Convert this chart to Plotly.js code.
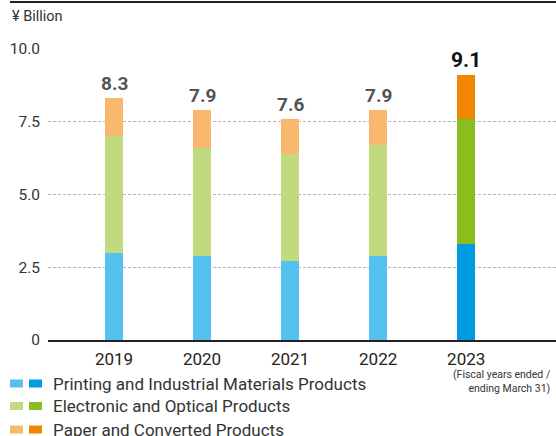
<!DOCTYPE html>
<html>
<head>
<meta charset="utf-8">
<script src="https://cdn.plot.ly/plotly-3.0.1.min.js"></script>
<style>
html,body{margin:0;padding:0;background:#fff;}
#chart{width:556px;height:436px;}
</style>
</head>
<body>
<div id="chart"></div>
<script>
// ---- data ----
const years = ['2019', '2020', '2021', '2022', '2023'];
const printingIndustrial = [3.0, 2.9, 2.7, 2.9, 3.3];
const electronicOptical = [4.0, 3.7, 3.7, 3.8, 4.3];
const paperConverted = [1.3, 1.3, 1.2, 1.2, 1.5];
const seriesNames = ['Printing and Industrial Materials Products', 'Electronic and Optical Products', 'Paper and Converted Products'];
const yTickVals = [0, 2.5, 5.0, 7.5, 10.0];
const yTickText = ['0', '2.5', '5.0', '7.5', '10.0'];
const unitLabel = '¥ Billion';
const fiscalNote = '(Fiscal years ended /<br>ending March 31)';

// ---- styles ----
const FONT = 'Roboto, "DejaVu Sans", sans-serif';
const lightColors = ['#55c1ef', '#c1da7f', '#f8b86d'];
const darkColors = ['#009be0', '#8abe1e', '#f18700'];
const L = 48, R = 0, T = 49, B = 96, W = 556, H = 436;
const pw = W - L - R, ph = H - T - B;
const px = x => (x - L) / pw;
const py = y => (H - B - y) / ph;

const seriesData = [printingIndustrial, electronicOptical, paperConverted];
const lastIdx = years.length - 1;

const traces = seriesData.map((vals, s) => ({
  type: 'bar',
  x: years,
  y: vals,
  name: seriesNames[s],
  width: 0.205,
  marker: {
    color: years.map((_, i) => i === lastIdx ? darkColors[s] : lightColors[s]),
    line: {width: 0}
  },
  hoverinfo: 'skip',
  showlegend: false
}));

const totals = years.map((_, i) => seriesData.reduce((a, arr) => a + arr[i], 0));

const annotations = [];
years.forEach((yr, i) => {
  const last = i === lastIdx;
  annotations.push({
    x: i, y: totals[i], xref: 'x', yref: 'y',
    text: '<b>' + totals[i].toFixed(1) + '</b>',
    showarrow: false, yanchor: 'bottom', yshift: 1,
    font: {family: FONT, size: last ? 21 : 19, color: last ? '#111' : '#555'}
  });
});
annotations.push({
  x: px(10), y: py(17), xref: 'paper', yref: 'paper',
  text: unitLabel, showarrow: false, xanchor: 'left', yanchor: 'middle',
  font: {family: FONT, size: 14.5, color: '#333'}
});
annotations.push({
  x: px(553), y: py(381), xref: 'paper', yref: 'paper',
  text: fiscalNote, showarrow: false, xanchor: 'right', yanchor: 'middle', align: 'right',
  font: {family: FONT, size: 10.5, color: '#333'}
});

const shapes = [{
  type: 'line', xref: 'paper', yref: 'paper',
  x0: px(10), x1: 1, y0: py(2), y1: py(2),
  line: {color: '#222', width: 2}
}];

const legendRows = [383.5, 406, 429.5];
seriesNames.forEach((nm, s) => {
  const cy = legendRows[s];
  shapes.push({type: 'rect', xref: 'paper', yref: 'paper',
    x0: px(10), x1: px(23), y0: py(cy - 4), y1: py(cy + 4),
    fillcolor: lightColors[s], line: {width: 0}});
  shapes.push({type: 'rect', xref: 'paper', yref: 'paper',
    x0: px(29), x1: px(42), y0: py(cy - 4), y1: py(cy + 4),
    fillcolor: darkColors[s], line: {width: 0}});
  annotations.push({
    x: px(51), y: py(cy), xref: 'paper', yref: 'paper',
    text: nm, showarrow: false, xanchor: 'left', yanchor: 'middle',
    font: {family: FONT, size: 17, color: '#333'}
  });
});

const layout = {
  width: W, height: H,
  margin: {l: L, r: R, t: T, b: B, pad: 0},
  paper_bgcolor: '#fff', plot_bgcolor: '#fff',
  barmode: 'stack',
  showlegend: false,
  font: {family: FONT, color: '#333'},
  xaxis: {
    type: 'category',
    range: [-0.75, 5.02],
    showgrid: false, zeroline: false,
    showline: true, linecolor: '#222', linewidth: 2,
    ticks: '', ticklabelstandoff: 3,
    tickfont: {family: FONT, size: 17, color: '#222'},
    fixedrange: true
  },
  yaxis: {
    range: [0, 10],
    tickvals: yTickVals, ticktext: yTickText,
    showgrid: true, gridcolor: '#b5b5b5', gridwidth: 1, griddash: '3px,2px',
    zeroline: false, showline: false,
    ticks: '', ticklabelstandoff: 7,
    tickfont: {family: FONT, size: 15.5, color: '#333'},
    fixedrange: true
  },
  annotations: annotations,
  shapes: shapes
};

Plotly.newPlot('chart', traces, layout, {displayModeBar: false, staticPlot: true});
</script>
</body>
</html>
